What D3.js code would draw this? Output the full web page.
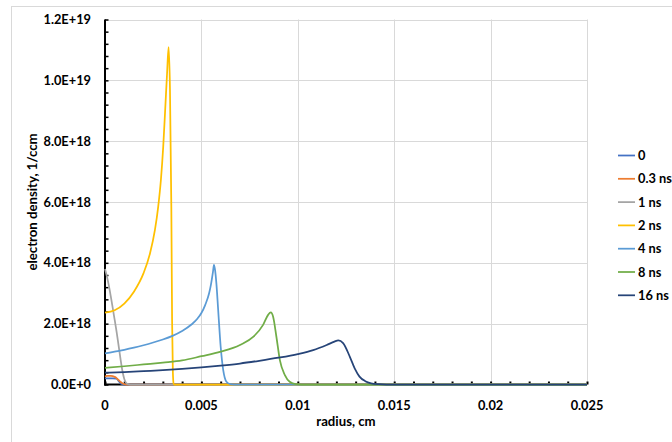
<!DOCTYPE html>
<html>
<head>
<meta charset="utf-8">
<script src="https://cdn.jsdelivr.net/npm/d3@7"></script>
<style>
  html, body { margin: 0; padding: 0; background: #fff; }
  svg { display: block; font-family: Lato, "Open Sans", sans-serif; }
</style>
</head>
<body>
<svg id="chart" width="672" height="442"></svg>
<script>
// Electron density profiles n_e(r) at successive times (radius in cm, density in 1/ccm)
const seriesNames = ["0", "0.3 ns", "1 ns", "2 ns", "4 ns", "8 ns", "16 ns"];
const seriesColors = ["#4472C4", "#ED7D31", "#A5A5A5", "#FFC000", "#5B9BD5", "#70AD47", "#264478"];

const radius_0 = [0, 0.0004, 0.0006, 0.0007, 0.0008, 0.0009, 0.001, 0.025];
const density_0 = [0.2e18, 0.2e18, 0.19e18, 0.12e18, 0.04e18, 0.01e18, 0, 0];

const radius_03 = [0, 0.0001, 0.0003, 0.0005, 0.0006, 0.0007, 0.0008, 0.0009, 0.001, 0.0011, 0.025];
const density_03 = [0.26e18, 0.28e18, 0.28e18, 0.25e18, 0.21e18, 0.15e18, 0.09e18, 0.04e18, 0.01e18, 0, 0];

const radius_1 = [0, 0.0001, 0.0002, 0.0003, 0.0004, 0.0005, 0.0006, 0.0007, 0.0008, 0.0009, 0.001, 0.0011, 0.0012, 0.0013, 0.025];
const density_1 = [3.8e18, 3.55e18, 3.25e18, 2.9e18, 2.52e18, 2.13e18, 1.74e18, 1.3e18, 0.86e18, 0.46e18, 0.18e18, 0.05e18, 0.01e18, 0, 0];

const radius_2 = [0, 0.0005, 0.001, 0.0015, 0.002, 0.00233, 0.00259, 0.00276, 0.0029, 0.00302, 0.00313, 0.00322, 0.0033, 0.00337, 0.00344, 0.00348, 0.00352, 0.00356, 0.0036, 0.025];
const density_2 = [2.36e18, 2.44e18, 2.66e18, 3.05e18, 3.66e18, 4.3e18, 5.08e18, 5.85e18, 6.73e18, 7.82e18, 9.14e18, 10.24e18, 11.09e18, 9.7e18, 5.85e18, 2.1e18, 0.4e18, 0.02e18, 0, 0];

const radius_4 = [0, 0.0005, 0.001, 0.0015, 0.002, 0.0025, 0.003, 0.0035, 0.004, 0.0045, 0.0048, 0.005, 0.0052, 0.0054, 0.0055, 0.0056, 0.00565, 0.0057, 0.00578, 0.00587, 0.006, 0.00613, 0.0063, 0.0065, 0.0067, 0.025];
const density_4 = [1.02e18, 1.08e18, 1.14e18, 1.21e18, 1.29e18, 1.38e18, 1.48e18, 1.6e18, 1.76e18, 1.98e18, 2.17e18, 2.35e18, 2.62e18, 3.0e18, 3.3e18, 3.7e18, 3.93e18, 3.8e18, 3.3e18, 2.45e18, 1.24e18, 0.48e18, 0.09e18, 0.01e18, 0, 0];

const radius_8 = [0, 0.001, 0.002, 0.003, 0.004, 0.005, 0.006, 0.007, 0.0077, 0.0082, 0.00846, 0.0086, 0.00872, 0.00889, 0.00907, 0.00933, 0.00958, 0.0099, 0.0102, 0.025];
const density_8 = [0.55e18, 0.6e18, 0.66e18, 0.72e18, 0.79e18, 0.93e18, 1.08e18, 1.3e18, 1.57e18, 1.96e18, 2.29e18, 2.37e18, 2.23e18, 1.57e18, 0.8e18, 0.31e18, 0.09e18, 0.01e18, 0, 0];

const radius_16 = [0, 0.001, 0.002, 0.003, 0.004, 0.005, 0.006, 0.007, 0.008, 0.009, 0.01, 0.0108, 0.0115, 0.0119, 0.0121, 0.01235, 0.0127, 0.01295, 0.0132, 0.0135, 0.0138, 0.0142, 0.0146, 0.025];
const density_16 = [0.39e18, 0.41e18, 0.44e18, 0.47e18, 0.51e18, 0.56e18, 0.62e18, 0.69e18, 0.78e18, 0.88e18, 1.0e18, 1.13e18, 1.3e18, 1.41e18, 1.45e18, 1.36e18, 0.91e18, 0.53e18, 0.26e18, 0.11e18, 0.04e18, 0.01e18, 0, 0];

const radiusSets = [radius_0, radius_03, radius_1, radius_2, radius_4, radius_8, radius_16];
const densitySets = [density_0, density_03, density_1, density_2, density_4, density_8, density_16];

const xTicks = [0, 0.005, 0.01, 0.015, 0.02, 0.025];
const yTicks = [0, 2e18, 4e18, 6e18, 8e18, 1e19, 1.2e19];
const xTitle = "radius, cm";
const yTitle = "electron density, 1/ccm";

// Layout
const plot = { left: 105, right: 587, top: 19.5, bottom: 384.5 };
const tickFont = 12.8;
const titleFont = 13.2;
const svg = d3.select("#chart");

const x = d3.scaleLinear().domain([0, 0.025]).range([plot.left, plot.right]);
const y = d3.scaleLinear().domain([0, 1.2e19]).range([plot.bottom, plot.top]);

// Outer chart frame
svg.append("rect")
  .attr("x", 11.5).attr("y", 6.5)
  .attr("width", 720).attr("height", 520)
  .attr("fill", "none").attr("stroke", "#d9d9d9").attr("stroke-width", 1);

// Gridlines
const grid = svg.append("g");
grid.selectAll("line.h").data(yTicks.slice(1)).join("line")
  .attr("x1", plot.left).attr("x2", plot.right)
  .attr("y1", d => Math.round(y(d)) + 0.5).attr("y2", d => Math.round(y(d)) + 0.5)
  .attr("stroke", "#d9d9d9").attr("stroke-width", 1);
grid.selectAll("line.v").data(xTicks.slice(1)).join("line")
  .attr("x1", d => Math.round(x(d)) + 0.5).attr("x2", d => Math.round(x(d)) + 0.5)
  .attr("y1", plot.top).attr("y2", plot.bottom)
  .attr("stroke", "#d9d9d9").attr("stroke-width", 1);

// Minor tick marks (inside the plot)
const yMinor = d3.range(0, 31).map(i => i * 4e17);
const xMinor = d3.range(0, 26).map(i => i * 0.001);

const yAxis = d3.axisRight(y).tickValues(yMinor).tickSize(3.5).tickFormat("");
svg.append("g").attr("transform", `translate(${plot.left},0)`).call(yAxis)
  .call(g => g.select(".domain").remove())
  .call(g => g.selectAll("line").attr("stroke", "#000").attr("stroke-width", 1.5));

const xAxis = d3.axisTop(x).tickValues(xMinor).tickSize(3).tickFormat("");
svg.append("g").attr("transform", `translate(0,${plot.bottom})`).call(xAxis)
  .call(g => g.select(".domain").remove())
  .call(g => g.selectAll("line").attr("stroke", "#000").attr("stroke-width", 2));

// Axis lines
svg.append("line")
  .attr("x1", plot.left).attr("x2", plot.left)
  .attr("y1", plot.top).attr("y2", plot.bottom + 1)
  .attr("stroke", "#000").attr("stroke-width", 2);
svg.append("line")
  .attr("x1", plot.left - 1).attr("x2", plot.right)
  .attr("y1", plot.bottom).attr("y2", plot.bottom)
  .attr("stroke", "#000").attr("stroke-width", 2);

// Tick labels
const fmtY = v => d3.format(".1e")(v).toUpperCase();
svg.append("g").selectAll("text").data(yTicks).join("text")
  .attr("x", 91).attr("y", d => y(d))
  .attr("dy", "0.36em")
  .attr("text-anchor", "end")
  .attr("font-size", tickFont).attr("font-weight", 700).attr("fill", "#000")
  .text(fmtY);

svg.append("g").selectAll("text").data(xTicks).join("text")
  .attr("x", d => x(d)).attr("y", 405)
  .attr("dy", "0.36em")
  .attr("text-anchor", "middle")
  .attr("font-size", tickFont).attr("font-weight", 700).attr("fill", "#000")
  .text(d => String(d));

// Axis titles
svg.append("text")
  .attr("x", (plot.left + plot.right) / 2).attr("y", 421)
  .attr("dy", "0.36em")
  .attr("text-anchor", "middle")
  .attr("font-size", titleFont).attr("font-weight", 700).attr("fill", "#000")
  .text(xTitle);

svg.append("text")
  .attr("transform", `translate(32,${(plot.top + plot.bottom) / 2}) rotate(-90)`)
  .attr("dy", "0.36em")
  .attr("text-anchor", "middle")
  .attr("font-size", titleFont).attr("font-weight", 700).attr("fill", "#000")
  .text(yTitle);

// Series lines
const line = d3.line()
  .x(d => x(d[0]))
  .y(d => y(d[1]))
  .curve(d3.curveMonotoneX);

const series = seriesNames.map((name, i) => ({
  name,
  color: seriesColors[i],
  points: radiusSets[i].map((r, j) => [r, densitySets[i][j]])
}));

svg.append("g").selectAll("path").data(series).join("path")
  .attr("d", d => line(d.points))
  .attr("fill", "none")
  .attr("stroke", d => d.color)
  .attr("stroke-width", 1.75)
  .attr("stroke-linejoin", "round");

// Legend
const legend = svg.append("g");
const legendItems = legend.selectAll("g").data(series).join("g")
  .attr("transform", (d, i) => `translate(618,${155.5 + i * 23.3})`);
legendItems.append("line")
  .attr("x1", 0).attr("x2", 17).attr("y1", 0).attr("y2", 0)
  .attr("stroke", d => d.color).attr("stroke-width", 1.75);
legendItems.append("text")
  .attr("x", 20).attr("y", 0).attr("dy", "0.36em")
  .attr("font-size", tickFont).attr("font-weight", 700).attr("fill", "#000")
  .text(d => d.name);
</script>
</body>
</html>
